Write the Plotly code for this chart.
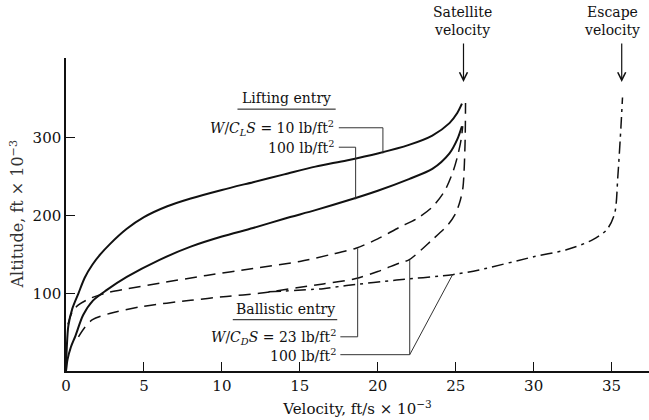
import plotly.graph_objects as go

# ---- data (velocity in ft/s x 10^-3, altitude in ft x 10^-3) ----
v_lift10 = [0, 0.05, 0.15, 0.4, 0.8, 1.2, 1.7, 2.2, 2.8, 3.9, 5, 6.5, 8, 10, 12, 14, 16, 18, 20, 22, 23.5, 24.6, 25.1, 25.4]
h_lift10 = [0, 30, 58, 80, 100, 120, 137, 150, 163, 183, 198, 212, 222, 233, 243, 253, 263, 271, 280, 291, 303, 319, 332, 344]

v_lift100 = [0, 0.1, 0.3, 0.6, 1.1, 1.7, 2.6, 3.9, 6, 8, 10, 12, 14, 16, 18, 20, 22, 23.5, 24.6, 25.1, 25.4]
h_lift100 = [0, 15, 30, 45, 72, 90, 104, 121, 143, 160, 173, 184, 196, 207, 219, 232, 247, 260, 280, 298, 315]

v_ball23 = [0.12, 0.4, 0.8, 1.5, 2.5, 4, 6, 9, 12, 15, 17, 18.6, 20, 21.4, 22.5, 23.5, 24.3, 24.8, 25.1, 25.35, 25.45]
h_ball23 = [60, 76, 85, 93, 100, 106, 113, 123, 132, 141, 150, 158, 170, 185, 196, 211, 232, 255, 275, 298, 315]

v_ball100 = [0.8, 1.2, 1.7, 2.8, 4.9, 8, 10.3, 12.4, 14.8, 16.5, 18.6, 20, 21.4, 22, 23.5, 24.5, 25, 25.3, 25.47, 25.6, 25.63]
h_ball100 = [44, 56, 66, 74, 83, 91, 96, 100, 107, 112, 119, 128, 139, 143, 169, 188, 203, 220, 237, 293, 345]

v_escape = [13, 16.5, 18, 21.2, 24.8, 26.5, 30, 32.1, 33.8, 34.7, 35.2, 35.4, 35.6, 35.7]
h_escape = [102, 106, 110, 117, 124, 130, 147, 156, 169, 182, 203, 250, 314, 352]

x_ticks = [0, 5, 10, 15, 20, 25, 30, 35]
y_ticks = [100, 200, 300]

satellite_v = 25.5
escape_v = 35.65

SERIF = "DejaVu Serif"
INK = "#111111"

fig = go.Figure()
sm = 0.8
fig.add_trace(go.Scatter(x=v_lift10, y=h_lift10, mode="lines", line=dict(color=INK, width=2, shape="spline", smoothing=sm)))
fig.add_trace(go.Scatter(x=v_lift100, y=h_lift100, mode="lines", line=dict(color=INK, width=2, shape="spline", smoothing=sm)))
fig.add_trace(go.Scatter(x=v_ball23, y=h_ball23, mode="lines", line=dict(color=INK, width=1.5, dash="12px,7px", shape="spline", smoothing=sm)))
fig.add_trace(go.Scatter(x=v_ball100, y=h_ball100, mode="lines", line=dict(color=INK, width=1.5, dash="12px,7px", shape="spline", smoothing=sm)))
fig.add_trace(go.Scatter(x=v_escape, y=h_escape, mode="lines", line=dict(color=INK, width=1.5, dash="12px,5px,3px,5px", shape="spline", smoothing=sm)))

# leader lines
lw = dict(color="#333333", width=1)
leaders = [
    [(17.5, 313), (20.33, 313), (20.33, 280)],
    [(17.5, 288), (18.58, 288), (18.58, 221)],
    [(17.6, 44), (18.71, 44), (18.71, 158)],
    [(17.6, 21), (22.05, 21), (22.05, 143)],
    [(22.05, 21), (24.8, 124)],
]
for pts in leaders:
    for (x0, y0), (x1, y1) in zip(pts[:-1], pts[1:]):
        fig.add_shape(type="line", x0=x0, y0=y0, x1=x1, y1=y1, xref="x", yref="y", line=lw)

# underlines
fig.add_shape(type="line", x0=11.0, x1=17.3, y0=337, y1=337, line=dict(color=INK, width=1))
fig.add_shape(type="line", x0=10.7, x1=17.4, y0=66, y1=66, line=dict(color=INK, width=1))

tf = dict(family=SERIF, size=14, color=INK)
ann = [
    dict(x=14.15, y=351, text="Lifting entry", xanchor="center", yanchor="middle", font=tf),
    dict(x=17.3, y=313, text="<i>W</i>/<i>C<sub>L</sub>S</i> = 10 lb/ft<sup>2</sup>", xanchor="right", yanchor="middle", font=tf),
    dict(x=17.3, y=288, text="100 lb/ft<sup>2</sup>", xanchor="right", yanchor="middle", font=tf),
    dict(x=14.05, y=80, text="Ballistic entry", xanchor="center", yanchor="middle", font=tf),
    dict(x=17.45, y=44, text="<i>W</i>/<i>C<sub>D</sub>S</i> = 23 lb/ft<sup>2</sup>", xanchor="right", yanchor="middle", font=tf),
    dict(x=17.45, y=21, text="100 lb/ft<sup>2</sup>", xanchor="right", yanchor="middle", font=tf),
]
for a in ann:
    fig.add_annotation(showarrow=False, xref="x", yref="y", **a)

# velocity labels above the plot area (paper y)
fig.add_annotation(x=satellite_v - 0.05, y=1.118, xref="x", yref="paper", text="Satellite<br>velocity",
                   showarrow=False, xanchor="center", yanchor="middle", font=tf)
fig.add_annotation(x=escape_v - 0.6, y=1.118, xref="x", yref="paper", text="Escape<br>velocity",
                   showarrow=False, xanchor="center", yanchor="middle", font=tf)

for xv in (satellite_v, escape_v):
    fig.add_annotation(x=xv, y=372, xref="x", yref="y", text="", showarrow=True,
                       ax=0, ay=-40, arrowhead=5, arrowsize=1.3, arrowwidth=1.2, arrowcolor=INK)

fig.add_annotation(x=-0.084, y=0.50, xref="paper", yref="paper", text="Altitude, ft × 10<sup>−3</sup>",
                   textangle=-90, showarrow=False, xanchor="center", yanchor="middle",
                   font=dict(family=SERIF, size=16, color="#333333"))

fig.update_layout(
    width=649, height=420,
    margin=dict(l=66, r=0, t=58, b=49),
    paper_bgcolor="white", plot_bgcolor="white",
    showlegend=False,
    font=dict(family=SERIF, size=15, color=INK),
    xaxis=dict(range=[0, 37.4], tickvals=x_ticks, ticks="inside", ticklen=9, tickwidth=1, tickcolor=INK,
               showline=True, linecolor=INK, linewidth=1.5, showgrid=False, zeroline=False,
               tickfont=dict(family=SERIF, size=15, color=INK),
               title=dict(text="Velocity, ft/s × 10<sup>−3</sup>", font=dict(family=SERIF, size=15, color=INK), standoff=10)),
    yaxis=dict(range=[0, 402.8], tickvals=y_ticks, ticks="inside", ticklen=9, tickwidth=1, tickcolor=INK,
               showline=True, linecolor=INK, linewidth=1.5, showgrid=False, zeroline=False,
               tickfont=dict(family=SERIF, size=15, color=INK)),
)

fig.write_html("out.html")
